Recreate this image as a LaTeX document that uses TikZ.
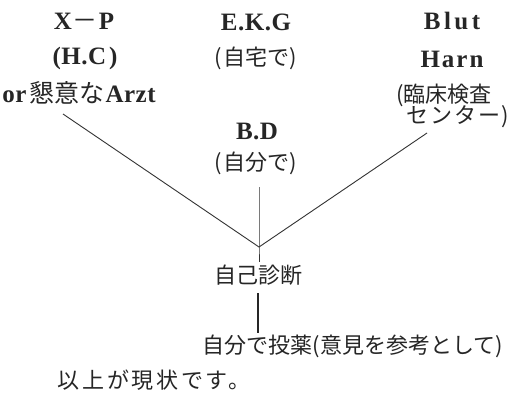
\documentclass[tikz,border=0pt]{standalone}
\usepackage{fontspec}
\newfontfamily\cjk{Noto Sans CJK JP}
\newfontfamily\latf[LetterSpace=2]{Liberation Serif}
\tikzset{
  lat/.style={font=\fontsize{25}{28}\selectfont\latf\bfseries, inner sep=0pt, text=black!85},
  jp/.style={font=\fontsize{22}{26}\selectfont\cjk, inner sep=0pt, text=black!85},
  conn/.style={draw=black!80, line width=0.9pt},
  connthick/.style={draw=black!85, line width=1.4pt}
}
\begin{document}
\begin{tikzpicture}[x=1pt,y=-1pt]
\useasboundingbox[fill=white] (0,0) rectangle (510,397);
% top row
\node[lat] (xp) at (84,21) {X\hspace{1pt}{\mdseries\cjk －}\hspace{1pt}P};
\node[lat] (ekg) at (256,22) {E.K.G};
\node[lat] (blut) at (452,21) {\addfontfeatures{LetterSpace=14}Blut};
% second row
\node[lat] (hc) at (85,58) {(H.C\hspace{3pt})};
\node[jp] (jitaku) at (256,58) {(\hspace{2pt}自宅で)};
\node[lat] (harn) at (452,59) {\addfontfeatures{LetterSpace=8}Harn};
% third row
\node[lat] (arzt) at (79,93) {or\hspace{3pt}{\mdseries\cjk 懇意な}\hspace{1pt}Arzt};
\node[jp] (rinsho) at (444,95) {(臨床検査};
\node[jp] (center) at (458,117) {\addfontfeatures{LetterSpace=8}センター)};
% middle
\node[lat] (bd) at (257,131) {B.D};
\node[jp] (jibun) at (256,163) {(\hspace{2pt}自分で)};
\node[jp] (jiko) at (258,275) {自己診断};
\node[jp] (toyaku) at (353,346) {自分で投薬(意見を参考として)};
\node[jp] (genjo) at (154,380) {\addfontfeatures{LetterSpace=12}以上が現状です。};
% connector points
\coordinate (L) at (63,114);
\coordinate (R) at (427,133);
\coordinate (J) at (259,247);
\coordinate (T) at (259,187);
\coordinate (B1) at (259,262);
\coordinate (B2) at (258,293);
\coordinate (B3) at (258,333);
\draw[conn] (L) -- (J) -- (R);
\draw[conn] (T) -- (J) -- (B1);
\draw[connthick] (B2) -- (B3);
\end{tikzpicture}
\end{document}
